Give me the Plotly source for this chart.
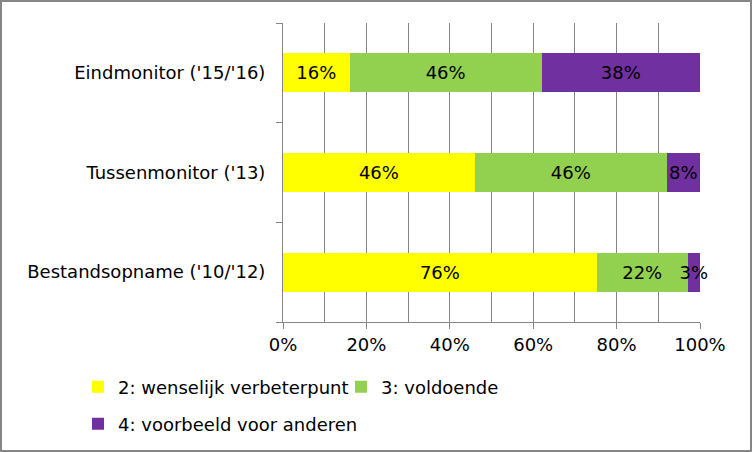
import plotly.graph_objects as go

categories = ["Bestandsopname ('10/'12)", "Tussenmonitor ('13)", "Eindmonitor ('15/'16)"]
series_names = ["2: wenselijk verbeterpunt", "3: voldoende", "4: voorbeeld voor anderen"]
s2 = [76, 46, 16]
s3 = [22, 46, 46]
s4 = [3, 8, 38]
colors = ["#FFFF00", "#92D050", "#7030A0"]
x_tickvals = [0, 20, 40, 60, 80, 100]
x_ticktext = ["0%", "20%", "40%", "60%", "80%", "100%"]

FONT = "DejaVu Sans"
FS = 18
W, H = 752, 452
ML, MR, MT, MB = 283, 52, 23, 130
PW = W - ML - MR
PH = H - MT - MB

fig = go.Figure()
for i, (name, vals) in enumerate(zip(series_names, [s2, s3, s4])):
    fig.add_trace(go.Bar(
        y=categories, x=vals, name=name, orientation="h",
        marker=dict(color=colors[i], line=dict(width=0)),
        text=[f"{v}%" for v in vals], textposition="inside", textangle=0,
        insidetextanchor="middle", constraintext="none",
        textfont=dict(family=FONT, size=FS, color="black"),
        cliponaxis=False, hoverinfo="skip",
        legend="legend" if i < 2 else "legend2",
    ))

fig.update_layout(
    width=W, height=H,
    margin=dict(l=ML, r=MR, t=MT, b=MB, autoexpand=False),
    barmode="stack", barnorm="percent", bargap=0.61,
    paper_bgcolor="white", plot_bgcolor="white",
    font=dict(family=FONT, size=FS, color="black"),
    showlegend=True,
    legend=dict(orientation="h", traceorder="normal", x=(78 - ML) / PW, xanchor="left",
                y=-(387 - (MT + PH)) / PH, yanchor="middle",
                entrywidth=218, entrywidthmode="pixels", itemwidth=30,
                font=dict(family=FONT, size=FS, color="black"), bgcolor="rgba(0,0,0,0)"),
    legend2=dict(orientation="h", x=(78 - ML) / PW, xanchor="left",
                 y=-(424 - (MT + PH)) / PH, yanchor="middle", itemwidth=30,
                 font=dict(family=FONT, size=FS, color="black"), bgcolor="rgba(0,0,0,0)"),
    xaxis=dict(range=[0, 100], tickvals=x_tickvals, ticktext=x_ticktext,
               showgrid=True, gridcolor="#868686", gridwidth=1,
               minor=dict(dtick=10, showgrid=True, gridcolor="#868686", gridwidth=1, ticks=""),
               ticks="outside", ticklen=6, tickcolor="#868686",
               showline=True, linecolor="#868686", linewidth=1,
               zeroline=False, fixedrange=True, automargin=False,
               tickfont=dict(family=FONT, size=FS, color="black")),
    yaxis=dict(type="category", range=[-0.5, 2.5], categoryorder="array", categoryarray=categories,
               ticks="outside", tickson="boundaries", ticklen=6, tickcolor="#868686",
               showline=True, linecolor="#868686", linewidth=1, showgrid=False,
               ticklabelstandoff=13, automargin=False, fixedrange=True,
               tickfont=dict(family=FONT, size=FS, color="black")),
    shapes=[dict(type="rect", xref="paper", yref="paper",
                 x0=(1 - ML) / PW, x1=(W - 1 - ML) / PW,
                 y0=-(H - 1 - MT - PH) / PH, y1=(PH + MT - 1) / PH,
                 line=dict(color="#868686", width=2), fillcolor="rgba(0,0,0,0)", layer="above")],
)

fig.write_html("out.html", config={"displayModeBar": False},
               post_script="document.body.style.margin='0';document.body.style.overflow='hidden';")
